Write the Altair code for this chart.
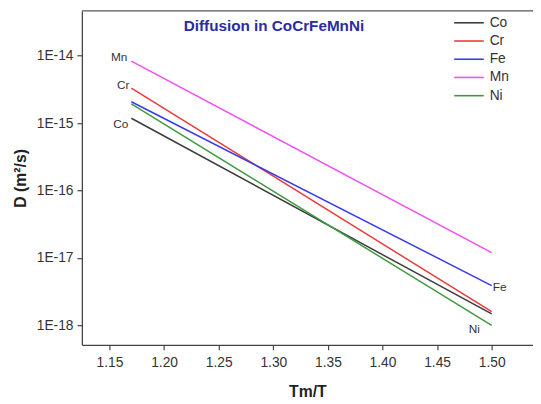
import altair as alt
import pandas as pd

# ---- data ----
elements = ["Co", "Cr", "Fe", "Mn", "Ni"]
colors = ["#3c3c3c", "#ec3a3a", "#3a3aec", "#f050f0", "#3f9a3f"]
tm_start = 1.17
tm_end = 1.50
d_start = [1.18e-15, 3.3e-15, 2.07e-15, 8.3e-15, 1.92e-15]
d_end = [1.48e-18, 1.6e-18, 3.9e-18, 1.2e-17, 1.0e-18]
x_ticks = [1.15, 1.20, 1.25, 1.30, 1.35, 1.40, 1.45, 1.50]
y_ticks = [1e-18, 1e-17, 1e-16, 1e-15, 1e-14]
title_text = "Diffusion in CoCrFeMnNi"

rows = []
for el, a, b in zip(elements, d_start, d_end):
    rows.append({"el": el, "tm": tm_start, "D": a})
    rows.append({"el": el, "tm": tm_end, "D": b})
df = pd.DataFrame(rows)

W, H = 458, 339
x_dom = [1.1247, 1.1247 + W / 1108.6]
y_dom = [10 ** -18.288, 10 ** -13.338]
FONT = "Liberation Sans"

x = alt.X("tm:Q", scale=alt.Scale(domain=x_dom, nice=False, zero=False),
          axis=alt.Axis(values=x_ticks, format=".2f", title="Tm/T", grid=False,
                        labelPadding=6, titlePadding=14))
y = alt.Y("D:Q", scale=alt.Scale(type="log", domain=y_dom, nice=False),
          axis=alt.Axis(values=y_ticks, title="D (m²/s)", grid=False,
                        labelExpr="'1E-' + round(-log(datum.value)/LN10)",
                        labelPadding=4, titlePadding=8))
color = alt.Color("el:N", scale=alt.Scale(domain=elements, range=colors),
                  legend=alt.Legend(title=None, orient="none", legendX=386, legendY=5,
                                    symbolType="M-3,0H3", symbolSize=100,
                                    symbolStrokeWidth=1.6, labelOffset=14,
                                    labelFontSize=14, labelColor="#333",
                                    labelFont=FONT, rowPadding=4.5, padding=0))

lines = alt.Chart(df).mark_line(strokeWidth=1.5, clip=True).encode(x=x, y=y, color=color)

def label(el, at_start, dx, dy, align):
    sub = df[(df.el == el) & (df.tm == (tm_start if at_start else tm_end))]
    return alt.Chart(sub).mark_text(align=align, baseline="middle", dx=dx, dy=dy,
                                    fontSize=12, font=FONT, color="#333").encode(
        x="tm:Q", y="D:Q", text="el:N")

labels = [
    label("Mn", True, -4, -4, "right"),
    label("Cr", True, -2, -3, "right"),
    label("Co", True, -3, 6, "right"),
    label("Fe", False, 1, 1, "left"),
    label("Ni", False, -12, 4, "right"),
]

top_border = alt.Chart(pd.DataFrame({"v": [0]})).mark_rule(color="#555", strokeWidth=1.3).encode(
    x=alt.value(0), x2=alt.value(W), y=alt.value(0))

title = alt.Chart(pd.DataFrame({"t": [title_text]})).mark_text(
    align="center", baseline="middle", fontSize=15.5, font=FONT, fontWeight="bold",
    color="#2b2ba6").encode(x=alt.value(195), y=alt.value(15), text="t:N")

chart = alt.layer(lines, *labels, top_border, title).properties(
    width=W, height=H,
    autosize=alt.AutoSizeParams(type="none"),
    padding={"left": 75, "top": 0, "right": 0, "bottom": 56},
).configure_view(stroke=None).configure_axis(
    domainColor="#444", domainWidth=1.3, tickColor="#444", tickWidth=1.2, tickSize=5,
    labelFont=FONT, labelFontSize=14, labelColor="#333",
    titleFont=FONT, titleFontSize=16, titleFontWeight="bold", titleColor="#222",
)

chart.save("out.html", embed_options={"renderer": "svg", "actions": False})
